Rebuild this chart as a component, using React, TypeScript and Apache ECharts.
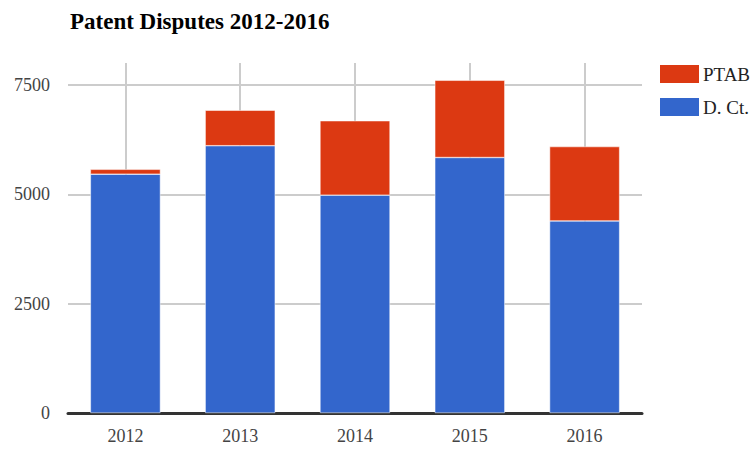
import React, { useEffect, useRef } from "react";
import * as echarts from "echarts";

const years = ["2012", "2013", "2014", "2015", "2016"];
const districtCourt = [5460, 6110, 4980, 5840, 4390];
const ptab = [110, 810, 1700, 1765, 1700];
const yTicks = [0, 2500, 5000, 7500];

const SERIF = '"Liberation Serif", "Times New Roman", serif';

export default function App() {
  const ref = useRef<HTMLDivElement>(null);
  useEffect(() => {
    if (!ref.current) return;
    const chart = echarts.init(ref.current, undefined, { renderer: "svg" });
    chart.setOption({
      animation: false,
      backgroundColor: "#ffffff",
      title: {
        text: "Patent Disputes 2012-2016",
        left: 65,
        top: 5,
        textStyle: { fontFamily: SERIF, fontWeight: "bold", fontSize: 23, color: "#000" },
      },
      legend: {
        orient: "vertical",
        left: 653,
        top: 58,
        itemWidth: 41,
        itemHeight: 20,
        itemGap: 11,
        icon: "rect",
        data: ["PTAB", "D. Ct."],
        textStyle: {
          fontFamily: SERIF,
          fontSize: 19,
          lineHeight: 20,
          color: "#222",
          padding: [0, 0, 0, -2],
        },
      },
      grid: { left: 68, right: 114, top: 63, bottom: 50 },
      xAxis: {
        type: "category",
        data: years,
        axisLine: { show: true, lineStyle: { color: "#333", width: 3 } },
        axisTick: { show: false },
        axisLabel: { fontFamily: SERIF, fontSize: 18, color: "#444", margin: 14 },
        splitLine: { show: true, alignWithLabel: true, lineStyle: { color: "#cccccc", width: 2 } },
      },
      yAxis: {
        type: "value",
        min: 0,
        max: 8000,
        interval: 2500,
        axisLine: { show: false },
        axisTick: { show: false },
        axisLabel: {
          fontFamily: SERIF,
          fontSize: 18,
          color: "#444",
          margin: 18,
          formatter: (v: number) => (yTicks.includes(v) ? String(v) : ""),
        },
        splitLine: {
          show: true,
          lineStyle: { color: ["#cccccc", "#cccccc", "#cccccc", "#cccccc", "rgba(0,0,0,0)"], width: 2 },
        },
      },
      series: [
        {
          name: "D. Ct.",
          type: "bar",
          stack: "total",
          data: districtCourt,
          barCategoryGap: "39%",
          itemStyle: { color: "#3366cc", borderColor: "#ffffff", borderWidth: 0.5 },
        },
        {
          name: "PTAB",
          type: "bar",
          stack: "total",
          data: ptab,
          barCategoryGap: "39%",
          itemStyle: { color: "#dc3912", borderColor: "#ffffff", borderWidth: 0.5 },
        },
      ],
    });
    return () => chart.dispose();
  }, []);
  return <div ref={ref} style={{ width: 756, height: 463, position: "absolute", left: 0, top: 0 }} />;
}
